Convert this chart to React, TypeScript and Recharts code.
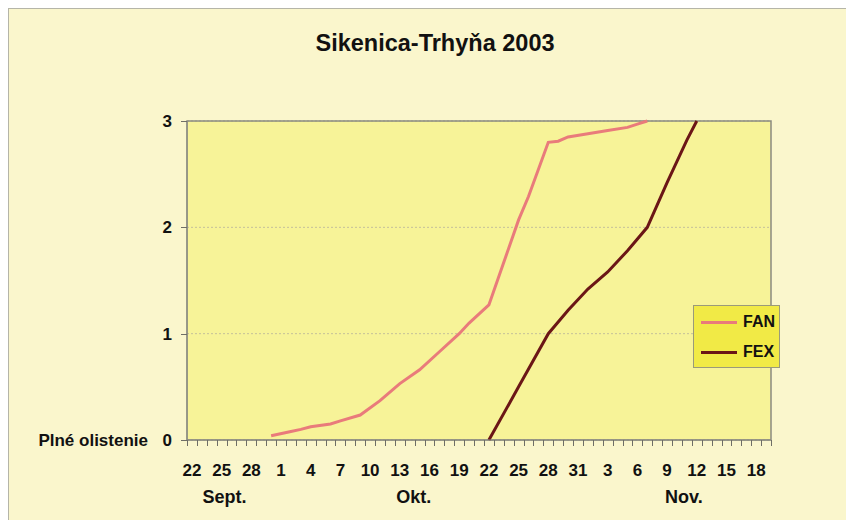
import {
  LineChart,
  Line,
  XAxis,
  YAxis,
  CartesianGrid,
  Legend,
  ReferenceArea
} from 'recharts'

// One category per day, 22 Sept – 19 Nov 2003
const DATES = [
  '22.9.', '23.9.', '24.9.', '25.9.', '26.9.', '27.9.', '28.9.', '29.9.', '30.9.',
  '1.10.', '2.10.', '3.10.', '4.10.', '5.10.', '6.10.', '7.10.', '8.10.', '9.10.', '10.10.',
  '11.10.', '12.10.', '13.10.', '14.10.', '15.10.', '16.10.', '17.10.', '18.10.', '19.10.', '20.10.',
  '21.10.', '22.10.', '23.10.', '24.10.', '25.10.', '26.10.', '27.10.', '28.10.', '29.10.', '30.10.', '31.10.',
  '1.11.', '2.11.', '3.11.', '4.11.', '5.11.', '6.11.', '7.11.', '8.11.', '9.11.', '10.11.',
  '11.11.', '12.11.', '13.11.', '14.11.', '15.11.', '16.11.', '17.11.', '18.11.', '19.11.'
]

// FAN = Fagus, FEX = Fraxinus (leaf fall stage)
const FAN_DATES = [
  '30.9.', '2.10.', '3.10.', '4.10.', '6.10.', '7.10.', '9.10.', '11.10.', '13.10.', '15.10.',
  '17.10.', '19.10.', '20.10.', '22.10.', '25.10.', '26.10.', '28.10.', '29.10.', '30.10.',
  '1.11.', '3.11.', '5.11.', '6.11.', '7.11.'
]
const FAN_VALUES = [
  0.04, 0.08, 0.1, 0.125, 0.15, 0.18, 0.235, 0.37, 0.53, 0.66,
  0.83, 1.0, 1.1, 1.27, 2.07, 2.29, 2.8, 2.81, 2.85,
  2.88, 2.91, 2.94, 2.97, 3.0
]

const FEX_DATES = ['22.10.', '25.10.', '28.10.', '30.10.', '1.11.', '3.11.', '5.11.', '7.11.', '9.11.', '11.11.', '12.11.']
const FEX_VALUES = [0, 0.5, 1.0, 1.22, 1.42, 1.58, 1.78, 2.0, 2.42, 2.82, 3.0]

const MONTHS = ['Sept.', 'Okt.', 'Nov.']
const Y_TICKS = [0, 1, 2, 3]

const FONT = '"Liberation Sans", Arial, Helvetica, sans-serif'
const FAN_COLOR = '#e97b7b'
const FEX_COLOR = '#6b1616'
const AXIS_GREY = '#8a8a80'
const TICK_GREY = '#6e6e66'

const DOMAIN: [number, number] = [-0.5, DATES.length - 0.5]
const MONTH_TICKS = [3.3, 22.4, 49.7] // where the month names sit on the day axis

const chartData = DATES.map((date, i) => {
  const fi = FAN_DATES.indexOf(date)
  const xi = FEX_DATES.indexOf(date)
  return {
    i,
    date,
    fan: fi >= 0 ? FAN_VALUES[fi] : null,
    fex: xi >= 0 ? FEX_VALUES[xi] : null
  }
})

// labels every 3rd day, small tick marks on every day boundary
const dayTicks = chartData.filter(d => d.i % 3 === 0).map(d => d.i)
const minorTicks = [...chartData.map(d => d.i - 0.5), DATES.length - 0.5]
const xTicks = [...minorTicks, ...dayTicks].sort((a, b) => a - b)

const tickStyle = { fontSize: 17, fontWeight: 'bold', fill: '#111', fontFamily: FONT }

const DayTick = ({ x, y, payload }: any) => {
  const v = payload.value
  if (!Number.isInteger(v)) {
    const px = Math.round(x) + 0.5
    return <line x1={px} x2={px} y1={y} y2={y + 6} stroke={TICK_GREY} strokeWidth={1} />
  }
  return (
    <text x={x} y={y + 24} dy="0.71em" textAnchor="middle" {...tickStyle}>
      {DATES[v].split('.')[0]}
    </text>
  )
}

const YTick = ({ x, y, payload }: any) => {
  const py = Math.round(y) + 0.5
  return (
    <g>
      <line x1={x - 6} x2={x} y1={py} y2={py} stroke={TICK_GREY} strokeWidth={1} />
      {payload.value === 0 && (
        <text x={x - 39} y={y} dy="0.36em" textAnchor="end" fontSize={17} fontWeight="bold" fill="#111" fontFamily={FONT}>
          Plné olistenie
        </text>
      )}
      <text x={x - 15} y={y} dy="0.36em" textAnchor="end" {...tickStyle}>
        {payload.value}
      </text>
    </g>
  )
}

const LegendBox = ({ payload }: any) => (
  <div
    style={{
      boxSizing: 'border-box',
      width: 87,
      background: '#f1ea46',
      border: '1px solid #9a9a7a',
      padding: '1px 0 0 7px',
      fontFamily: FONT,
      fontWeight: 'bold',
      fontSize: 16,
      color: '#111'
    }}
  >
    {(payload || []).map((entry: any) => (
      <div key={entry.value} style={{ display: 'flex', alignItems: 'center', height: 30 }}>
        <span style={{ width: 36, height: 3, background: entry.color, marginRight: 6 }} />
        {entry.value}
      </div>
    ))}
  </div>
)

export default function App() {
  return (
    <div
      style={{
        position: 'relative',
        width: 846,
        height: 512,
        background: '#faf6cc',
        boxShadow: 'inset 1px 1px 0 #b5b5a8'
      }}
    >
      <div
        style={{
          position: 'absolute',
          top: 24,
          left: 4,
          width: 846,
          textAlign: 'center',
          fontFamily: FONT,
          fontWeight: 'bold',
          fontSize: 23.5,
          lineHeight: '23px',
          color: '#111',
          zIndex: 1
        }}
      >
        Sikenica-Trhyňa 2003
      </div>
      <LineChart
        width={846}
        height={512}
        data={chartData}
        margin={{ top: 113, right: 83, bottom: 8, left: 119 }}
      >
        <CartesianGrid
          xAxisId="a-days"
          vertical={false}
          fill="#f7f398"
          stroke="#c4c09a"
          strokeDasharray="2 2"
        />
        <XAxis
          xAxisId="a-days"
          type="number"
          dataKey="i"
          domain={DOMAIN}
          ticks={xTicks}
          tick={<DayTick />}
          interval={0}
          tickLine={false}
          tickSize={0}
          tickMargin={0}
          height={42}
          stroke={AXIS_GREY}
          allowDataOverflow
        />
        <XAxis
          xAxisId="b-months"
          type="number"
          dataKey="i"
          domain={DOMAIN}
          ticks={MONTH_TICKS}
          tickFormatter={(v: number) => MONTHS[MONTH_TICKS.indexOf(v)] ?? ''}
          tick={{ ...tickStyle, fontSize: 18 }}
          interval={0}
          axisLine={false}
          tickLine={false}
          tickSize={0}
          tickMargin={8}
          height={30}
          allowDataOverflow
        />
        <YAxis
          domain={[0, 3]}
          ticks={Y_TICKS}
          width={60}
          tickLine={false}
          tickSize={0}
          tickMargin={0}
          stroke={AXIS_GREY}
          tick={<YTick />}
          interval={0}
        />
        <ReferenceArea
          xAxisId="a-days"
          x1={DOMAIN[0]}
          x2={DOMAIN[1]}
          y1={0}
          y2={3}
          fill="none"
          stroke={AXIS_GREY}
          strokeWidth={1.5}
        />
        <Legend
          layout="vertical"
          align="center"
          verticalAlign="middle"
          wrapperStyle={{ left: 685, top: 297, width: 87 }}
          content={<LegendBox />}
        />
        <Line
          xAxisId="a-days"
          type="linear"
          dataKey="fan"
          name="FAN"
          stroke={FAN_COLOR}
          strokeWidth={3}
          dot={false}
          connectNulls
          isAnimationActive={false}
        />
        <Line
          xAxisId="a-days"
          type="linear"
          dataKey="fex"
          name="FEX"
          stroke={FEX_COLOR}
          strokeWidth={3}
          dot={false}
          connectNulls
          isAnimationActive={false}
        />
      </LineChart>
    </div>
  )
}
